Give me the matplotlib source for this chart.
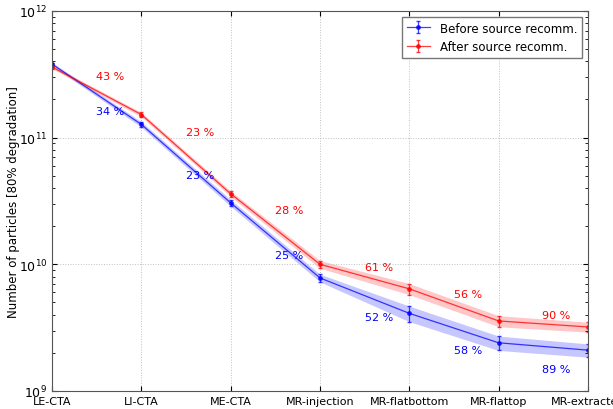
import numpy as np
import matplotlib.pyplot as plt

# ========================================================================
#                           Data
# ========================================================================
stages = ["LE-CTA", "LI-CTA", "ME-CTA", "MR-injection",
          "MR-flatbottom", "MR-flattop", "MR-extracted"]

before = [3.8e11, 1.27e11, 3.05e10, 7.8e9, 4.1e9, 2.4e9, 2.1e9]
after = [3.6e11, 1.52e11, 3.6e10, 1.0e10, 6.4e9, 3.57e9, 3.2e9]

# relative uncertainty (band half-width)
before_err = [0.03, 0.05, 0.06, 0.07, 0.14, 0.13, 0.12]
after_err = [0.03, 0.04, 0.05, 0.07, 0.10, 0.10, 0.09]

# percentage labels between stages
before_pct = ["34 %", "23 %", "25 %", "52 %", "58 %", "89 %"]
before_pct_x = [0.65, 1.66, 2.65, 3.66, 4.66, 5.65]
before_pct_y = [1.63e11, 5.08e10, 1.19e10, 3.85e9, 2.11e9, 1.49e9]

after_pct = ["43 %", "23 %", "28 %", "61 %", "56 %", "90 %"]
after_pct_x = [0.65, 1.66, 2.65, 3.66, 4.66, 5.65]
after_pct_y = [3.07e11, 1.11e11, 2.69e10, 9.5e9, 5.84e9, 3.99e9]

# ========================================================================
#                           Plot
# ========================================================================
x = np.arange(len(stages))
before = np.array(before)
after = np.array(after)
b_err = before * np.array(before_err)
a_err = after * np.array(after_err)

fig = plt.figure(figsize=(6.13, 4.10), dpi=100)
ax = fig.add_axes([0.085, 0.044, 0.874, 0.927])

ax.fill_between(x, before - b_err, before + b_err, color="blue", alpha=0.22, linewidth=0)
ax.fill_between(x, after - a_err, after + a_err, color="red", alpha=0.22, linewidth=0)

ax.errorbar(x, before, yerr=b_err, color="blue", marker="o", ms=2.5,
            lw=0.9, elinewidth=0.9, capsize=1.5, alpha=0.75,
            label="Before source recomm.")
ax.errorbar(x, after, yerr=a_err, color="red", marker="o", ms=2.5,
            lw=0.9, elinewidth=0.9, capsize=1.5, alpha=0.75,
            label="After source recomm.")

for xi, yi, t in zip(before_pct_x, before_pct_y, before_pct):
    ax.text(xi, yi, t, color="blue", fontsize=8, ha="center", va="center")
for xi, yi, t in zip(after_pct_x, after_pct_y, after_pct):
    ax.text(xi, yi, t, color="red", fontsize=8, ha="center", va="center")

ax.set_yscale("log")
ax.set_ylim(1e9, 1e12)
ax.set_xlim(0, 6)
ax.set_xticks(x)
ax.set_xticklabels(stages, fontsize=8)
ax.tick_params(axis="y", labelsize=9, which="both", direction="in", right=True)
ax.tick_params(axis="x", direction="in", top=True)
ax.set_ylabel("Number of particles [80% degradation]", fontsize=8.5)
ax.yaxis.set_label_coords(-0.06, 0.5)
ax.grid(True, which="major", color="#c0c0c0", linestyle=":", linewidth=0.7)
for s in ax.spines.values():
    s.set_color("#555555")

leg = ax.legend(loc="upper right", fontsize=8.5, fancybox=False,
                framealpha=1, edgecolor="#777777")

fig.savefig("out.png", dpi=100)
